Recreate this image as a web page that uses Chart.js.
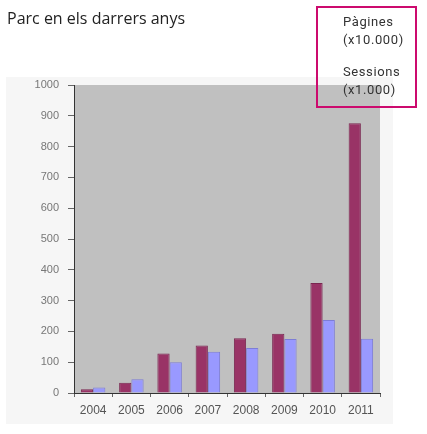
<!DOCTYPE html>
<html>
<head>
<meta charset="utf-8">
<script src="https://cdn.jsdelivr.net/npm/chart.js@4.4.1/dist/chart.umd.min.js"></script>
<style>
    html, body { margin: 0; padding: 0; background: #ffffff; }
    #wrap { position: relative; width: 427px; height: 434px; overflow: hidden; }
    #chart { position: absolute; left: 0; top: 0; }
    #title {
        position: absolute; left: 7px; top: 7px;
        font-family: "Open Sans", sans-serif; font-size: 16px; color: #222;
    }
    #legendBox {
        position: absolute; left: 316px; top: 6px; width: 97px; height: 98px;
        border: 2px solid #cc0a6e;
        font-family: Roboto, sans-serif; font-size: 13px; color: #333;
        letter-spacing: 0.6px; line-height: 18px;
    }
    #legendBox div { position: absolute; left: 25px; }
</style>
</head>
<body>
<div id="wrap">
    <canvas id="chart" width="427" height="434"></canvas>
    <div id="title">Parc en els darrers anys</div>
    <div id="legendBox">
        <div style="top: 5px;">Pàgines<br>(x10.000)</div>
        <div style="top: 55px;">Sessions<br>(x1.000)</div>
    </div>
</div>
<script>
document.addEventListener('DOMContentLoaded', () => {
    const years = ['2004', '2005', '2006', '2007', '2008', '2009', '2010', '2011'];
    const pagines = [12, 33, 128, 154, 178, 192, 357, 876];
    const sessions = [18, 45, 100, 134, 146, 175, 237, 176];
    const yTicks = [0, 100, 200, 300, 400, 500, 600, 700, 800, 900, 1000];

    // light backdrop behind the whole chart, grey fill for the plot area
    const backdrop = {
        id: 'backdrop',
        beforeDraw(chart) {
            const ctx = chart.ctx;
            const area = chart.chartArea;
            ctx.save();
            ctx.fillStyle = '#f6f6f6';
            ctx.fillRect(6, 77, 387, 347);
            ctx.fillStyle = '#c0c0c0';
            ctx.fillRect(area.left, area.top, area.right - area.left, area.bottom - area.top);
            ctx.restore();
        }
    };

    new Chart(document.getElementById('chart'), {
        type: 'bar',
        data: {
            labels: years,
            datasets: [{
                label: 'Pàgines (x10.000)',
                data: pagines,
                backgroundColor: '#993366',
                borderColor: '#7a2650',
                borderWidth: 1
            }, {
                label: 'Sessions (x1.000)',
                data: sessions,
                backgroundColor: '#9999ff',
                borderColor: '#7d7dd6',
                borderWidth: 1
            }]
        },
        options: {
            responsive: false,
            animation: false,
            layout: { padding: { left: 0, top: 85, right: 47, bottom: 0 } },
            datasets: {
                bar: { categoryPercentage: 0.64, barPercentage: 1 }
            },
            plugins: {
                legend: { display: false },
                tooltip: { enabled: false }
            },
            scales: {
                x: {
                    afterFit: (scale) => { scale.height = 41; },
                    grid: { drawOnChartArea: false, tickLength: 4, color: '#666' },
                    border: { color: '#333', width: 1 },
                    ticks: {
                        padding: 6, maxRotation: 0, autoSkip: false,
                        color: '#555',
                        font: { family: 'Liberation Sans, Arial, sans-serif', size: 12 }
                    }
                },
                y: {
                    min: 0,
                    max: 1000,
                    afterFit: (scale) => { scale.width = 74; },
                    afterBuildTicks: (scale) => { scale.ticks = yTicks.map(v => ({ value: v })); },
                    grid: { drawOnChartArea: false, tickLength: 6, color: '#666' },
                    border: { color: '#333', width: 1 },
                    ticks: {
                        padding: 9,
                        color: '#777',
                        callback: (v) => String(v),
                        font: { family: 'Liberation Sans, Arial, sans-serif', size: 11 }
                    }
                }
            }
        },
        plugins: [backdrop]
    });
});
</script>
</body>
</html>
